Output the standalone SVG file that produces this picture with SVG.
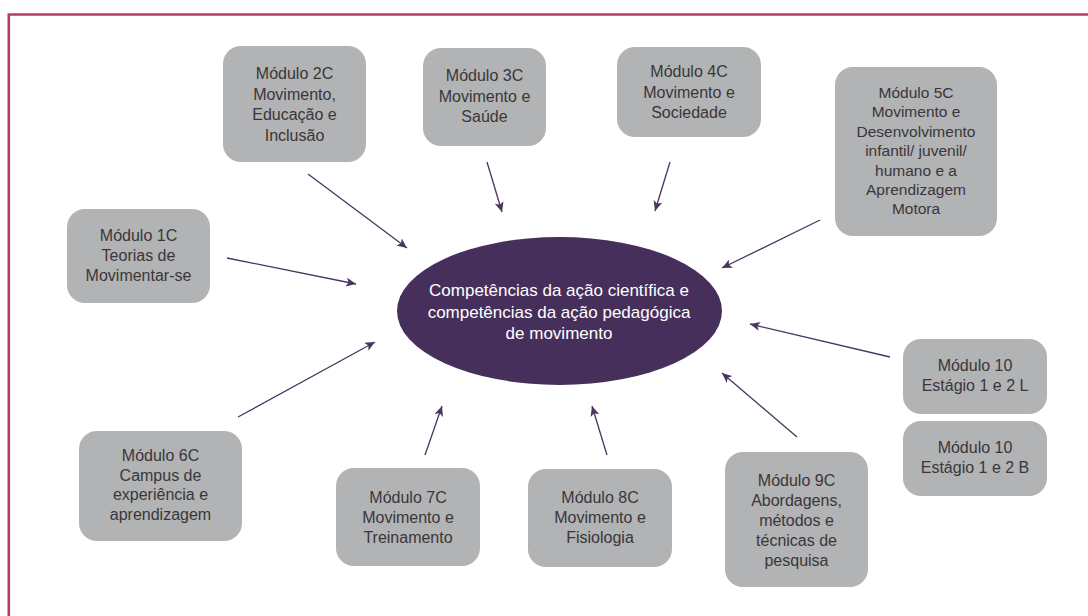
<svg xmlns="http://www.w3.org/2000/svg" width="1088" height="616" viewBox="0 0 1088 616">
<style>
.box{fill:#b1b3b4;}
.t{font-family:"Liberation Sans",Arial,sans-serif;font-size:16px;fill:#3b3639;text-anchor:middle;}
.ct{font-family:"Liberation Sans",Arial,sans-serif;font-size:17px;fill:#ffffff;text-anchor:middle;}
.arr{stroke:#4a3560;stroke-width:1.3;fill:none;marker-end:url(#ah);}
</style>
<defs>
<marker id="ah" markerUnits="userSpaceOnUse" markerWidth="11" markerHeight="9" refX="10" refY="4.5" orient="auto">
<path d="M0,0 L10,4.5 L0,9 L2.5,4.5 z" fill="#4a3560"/>
</marker>
</defs>
<rect width="1088" height="616" fill="#ffffff"/>
<path d="M8.8,616 L8.8,14.5 L1088,14.5" fill="none" stroke="#b33d66" stroke-width="2.6"/>

<g id="center">
<ellipse cx="559.5" cy="311" rx="162.5" ry="74" fill="#472f5b"/>
<text class="ct"><tspan x="559" y="296">Competências da ação científica e</tspan><tspan x="559" y="318">competências da ação pedagógica</tspan><tspan x="559" y="339">de movimento</tspan></text>
</g>

<g id="m1c">
<rect class="box" x="67" y="209" width="143" height="94" rx="18"/>
<text class="t"><tspan x="138.5" y="241">Módulo 1C</tspan><tspan x="138.5" y="261">Teorias de</tspan><tspan x="138.5" y="281">Movimentar-se</tspan></text>
</g>
<g id="m2c">
<rect class="box" x="223" y="46" width="143" height="116" rx="18"/>
<text class="t"><tspan x="294.5" y="79">Módulo 2C</tspan><tspan x="294.5" y="99.5">Movimento,</tspan><tspan x="294.5" y="120">Educação e</tspan><tspan x="294.5" y="140.5">Inclusão</tspan></text>
</g>
<g id="m3c">
<rect class="box" x="423" y="48" width="123" height="98" rx="18"/>
<text class="t"><tspan x="484.5" y="81">Módulo 3C</tspan><tspan x="484.5" y="101.5">Movimento e</tspan><tspan x="484.5" y="122">Saúde</tspan></text>
</g>
<g id="m4c">
<rect class="box" x="617" y="47" width="144" height="90" rx="18"/>
<text class="t"><tspan x="689" y="77">Módulo 4C</tspan><tspan x="689" y="97.5">Movimento e</tspan><tspan x="689" y="118">Sociedade</tspan></text>
</g>
<g id="m5c">
<rect class="box" x="835" y="67" width="162" height="169" rx="18"/>
<text class="t" style="font-size:15.5px"><tspan x="916" y="98">Módulo 5C</tspan><tspan x="916" y="117.4">Movimento e</tspan><tspan x="916" y="136.8">Desenvolvimento</tspan><tspan x="916" y="156.2">infantil/ juvenil/</tspan><tspan x="916" y="175.6">humano e a</tspan><tspan x="916" y="195">Aprendizagem</tspan><tspan x="916" y="214.4">Motora</tspan></text>
</g>
<g id="m6c">
<rect class="box" x="79" y="431" width="163" height="110" rx="18"/>
<text class="t"><tspan x="160.5" y="461">Módulo 6C</tspan><tspan x="160.5" y="480.5">Campus de</tspan><tspan x="160.5" y="500">experiência e</tspan><tspan x="160.5" y="519.5">aprendizagem</tspan></text>
</g>
<g id="m7c">
<rect class="box" x="336" y="468" width="144" height="98" rx="18"/>
<text class="t"><tspan x="408" y="503">Módulo 7C</tspan><tspan x="408" y="523">Movimento e</tspan><tspan x="408" y="542.5">Treinamento</tspan></text>
</g>
<g id="m8c">
<rect class="box" x="528" y="469" width="144" height="98" rx="18"/>
<text class="t"><tspan x="600" y="503">Módulo 8C</tspan><tspan x="600" y="523">Movimento e</tspan><tspan x="600" y="542.5">Fisiologia</tspan></text>
</g>
<g id="m9c">
<rect class="box" x="725" y="452" width="143" height="135" rx="18"/>
<text class="t"><tspan x="796.5" y="486">Módulo 9C</tspan><tspan x="796.5" y="506">Abordagens,</tspan><tspan x="796.5" y="526">métodos e</tspan><tspan x="796.5" y="546">técnicas de</tspan><tspan x="796.5" y="565.5">pesquisa</tspan></text>
</g>
<g id="m10l">
<rect class="box" x="903" y="339" width="144" height="75" rx="18"/>
<text class="t"><tspan x="975" y="371">Módulo 10</tspan><tspan x="975" y="391">Estágio 1 e 2 L</tspan></text>
</g>
<g id="m10b">
<rect class="box" x="903" y="421" width="144" height="75" rx="18"/>
<text class="t"><tspan x="975" y="453">Módulo 10</tspan><tspan x="975" y="473">Estágio 1 e 2 B</tspan></text>
</g>

<g id="connectors">
<line class="arr" x1="227" y1="258" x2="356" y2="284"/>
<line class="arr" x1="308" y1="174" x2="407" y2="248"/>
<line class="arr" x1="487" y1="162" x2="502" y2="212"/>
<line class="arr" x1="670" y1="162" x2="655" y2="211"/>
<line class="arr" x1="820" y1="220" x2="722" y2="268"/>
<line class="arr" x1="890" y1="357" x2="750" y2="324"/>
<line class="arr" x1="797" y1="437" x2="722" y2="373"/>
<line class="arr" x1="607" y1="455" x2="592" y2="406"/>
<line class="arr" x1="425" y1="455" x2="442" y2="406"/>
<line class="arr" x1="238" y1="417" x2="375" y2="342"/>
</g>
</svg>
